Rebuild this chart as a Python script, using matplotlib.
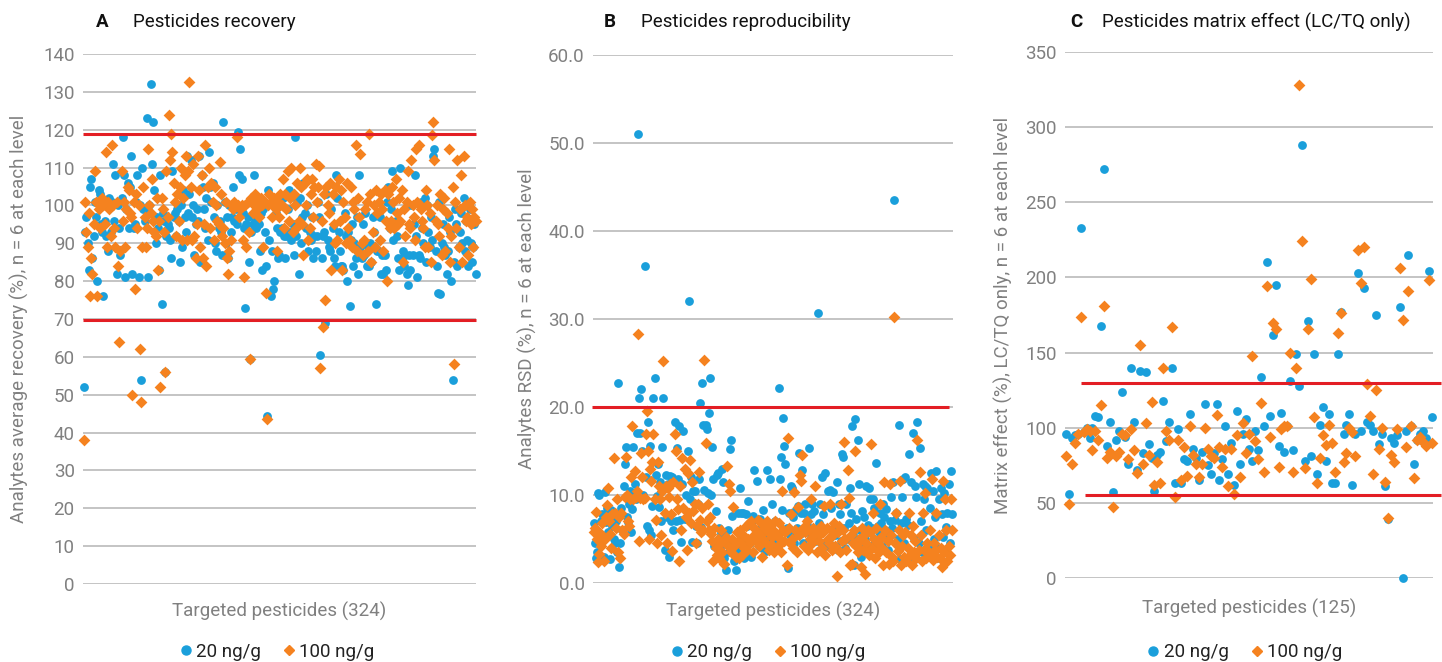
import matplotlib
matplotlib.use("Agg")
import matplotlib.pyplot as plt
from matplotlib.lines import Line2D
import numpy as np

plt.rcParams['font.family'] = ['Roboto', 'DejaVu Sans']

# ------------------------------------------------------------------------------
# Data
# ------------------------------------------------------------------------------
series_labels = ["20 ng/g", "100 ng/g"]

# A - average recovery (%), 324 pesticides
recovery_20 = [
    52, 93, 97, 90, 83, 105, 107, 86, 92, 101,
    97, 80, 104, 103, 95, 93, 76, 96, 92, 100,
    88, 102, 93, 101, 111, 96, 108, 82, 100, 94,
    87, 102, 118, 108, 81, 99, 106, 94, 105, 113,
    82, 94, 95, 101, 108, 81, 100, 54, 110, 99,
    96, 99, 123, 81, 100, 132, 111, 122, 104, 90,
    97, 94, 83, 108, 74, 98, 96, 56, 92, 95,
    94, 91, 86, 109, 97, 98, 92, 99, 96, 85,
    100, 89, 104, 97, 93, 113, 98, 103, 112, 97,
    100, 87, 95, 99, 96, 113, 85, 108, 105, 99,
    94, 102, 91, 114, 105, 101, 106, 97, 90, 88,
    100, 94, 96, 93, 87, 122, 101, 90, 97, 86,
    100, 93, 97, 105, 96, 99, 95, 119.5, 108, 115,
    107, 98, 94, 73, 95, 97, 85, 59.5, 93, 95,
    108, 96, 94, 100, 95, 88, 98, 83, 99, 93,
    84, 44.5, 104, 91, 76, 88, 78, 80, 98, 94,
    86, 87, 93, 94, 102, 92, 86, 92, 99, 104,
    93, 91, 95, 87, 118, 92, 101, 82, 102, 90,
    97, 106, 98, 94, 100, 88, 93, 91, 97, 86,
    92, 88, 92, 101, 97, 60.5, 86, 92, 93, 69,
    103, 91, 89, 88, 99, 94, 86, 84, 108, 102,
    93, 88, 84, 84, 83, 98, 92, 80, 93, 73.5,
    91, 95, 84, 90, 86, 97, 82, 108, 89, 86,
    95, 87, 98, 84, 89, 84, 90, 85, 97, 93,
    89, 74, 88, 88, 97, 82, 87, 82, 87, 83,
    101, 105, 94, 99, 109, 91, 95, 96, 92, 86,
    83, 110, 86, 88, 84, 87, 82, 79, 87, 83,
    100, 87, 95, 108, 92, 81, 87, 86, 101, 94,
    90, 102, 85, 100, 93, 89, 97, 91, 113, 115,
    88, 84, 77, 101, 76.5, 90, 95, 89, 87, 82,
    88, 97, 93, 80, 54, 85, 99, 95, 84, 89,
    93, 98, 90, 102, 88, 96, 91, 84, 99, 90,
    85, 89, 95, 82,
]
recovery_100 = [
    38, 101, 93, 89, 98, 76, 86, 82, 95, 109,
    101, 76, 99, 94, 101, 102, 100, 95, 114, 89,
    101, 99, 92, 116, 100, 94, 89, 101, 84, 64,
    88, 109, 96, 101, 89, 99, 105, 104, 98, 97,
    50, 101, 78, 103, 94, 100, 62, 48, 89, 105,
    97, 89, 94, 115, 100, 98, 107, 96, 93, 92,
    102, 83, 96, 52, 102, 99, 93, 56, 109, 97,
    124, 112, 119, 114, 106, 101, 92, 103, 96, 105,
    110, 91, 102, 108, 113, 91, 109, 132.5, 105, 91,
    111, 92, 86, 95, 113, 104, 89, 108, 86, 95,
    116, 84, 105, 110, 94, 106, 101, 91, 105, 100,
    96, 95, 111.5, 103, 92, 94, 90, 101, 86, 82,
    88, 91, 100, 99, 101, 100, 118, 100, 97, 99,
    100, 91, 81, 100, 89, 101, 93, 59.5, 102, 98,
    100, 103, 101, 99, 97, 100, 102, 100, 89, 101,
    77, 43.5, 100, 103, 101, 97, 100, 102, 99, 88,
    101, 97, 103, 100, 107, 94, 103, 99, 109, 96,
    102, 110, 93, 103, 100, 94, 106, 96, 110, 105,
    95, 87, 106, 100, 107, 91, 94, 103, 107, 97,
    105, 111, 101, 105, 110.5, 57, 96, 68, 103, 75,
    105, 100, 98, 106, 83, 103, 95, 90, 105, 91,
    107, 96, 104, 83, 101, 97, 90, 106, 94, 91,
    105, 89, 101, 99, 116, 88, 102, 97, 113.5, 90,
    87, 91, 99, 101, 88, 119, 103, 85, 93, 100,
    89, 104, 98, 101, 91, 103, 99, 88, 104, 96,
    80, 103, 94, 96, 105, 101, 94, 107, 98, 95,
    102, 96, 104, 85, 99, 92, 101, 109, 95, 94,
    112, 100, 97, 91, 115, 101, 116, 100, 99, 96,
    94, 89, 104, 100, 89, 98, 85, 118.5, 122, 112,
    96, 100, 95, 92, 103, 87, 99, 102, 88, 98,
    94, 115, 85, 92, 105, 58, 101, 94, 112, 89,
    99, 108, 85, 113, 100, 96, 97, 87, 101, 95,
    99, 89, 97, 96,
]

# B - RSD (%), 324 pesticides
rsd_20 = [
    6.8, 4.6, 2.8, 3.5, 10.2, 10.0, 4.5, 7.0, 7.8, 3.0,
    10.3, 6.9, 8.5, 5.8, 7.8, 2.7, 8.3, 6.5, 5.0, 4.5,
    7.0, 3.5, 22.7, 1.8, 4.5, 8.5, 6.0, 11.0, 13.5, 15.5,
    7.5, 6.9, 9.0, 10.4, 5.8, 8.4, 15.4, 11.2, 9.6, 17.0,
    51.0, 21.0, 17.1, 22.0, 15.0, 10.0, 36.0, 12.0, 6.5, 18.3,
    6.0, 15.6, 5.5, 8.7, 21.0, 23.3, 12.3, 9.9, 13.5, 8.6,
    11.5, 7.0, 15.5, 21.0, 3.8, 12.3, 7.5, 11.2, 3.0, 12.2,
    7.0, 12.0, 6.0, 18.3, 7.0, 15.3, 11.8, 17.8, 7.2, 4.7,
    11.3, 17.3, 7.3, 10.0, 7.3, 15.0, 32.0, 9.5, 12.0, 4.7,
    10.4, 10.5, 6.5, 4.5, 9.0, 11.8, 20.5, 6.4, 22.7, 17.9,
    10.6, 18.0, 17.5, 10.2, 19.3, 23.3, 10.0, 15.5, 11.8, 4.2,
    8.2, 12.3, 12.5, 6.2, 4.0, 5.7, 13.0, 11.5, 2.8, 1.5,
    4.5, 6.0, 3.5, 15.2, 16.3, 7.6, 4.8, 2.5, 1.5, 4.0,
    8.0, 3.5, 10.8, 7.9, 5.0, 8.0, 2.8, 7.8, 6.5, 9.3,
    5.0, 4.6, 3.0, 7.0, 7.6, 12.8, 5.5, 11.6, 5.0, 4.2,
    7.3, 6.4, 4.0, 8.3, 6.0, 3.6, 12.8, 4.5, 5.5, 11.8,
    6.2, 9.0, 5.0, 3.8, 7.0, 4.2, 5.5, 22.2, 11.8, 14.3,
    8.3, 18.8, 15.6, 13.5, 6.2, 1.7, 8.0, 5.5, 11.0, 10.8,
    7.5, 4.6, 8.2, 6.3, 8.8, 14.8, 5.6, 7.9, 12.8, 4.5,
    8.0, 9.0, 7.0, 5.8, 15.3, 6.2, 7.8, 9.0, 5.0, 8.2,
    4.8, 6.0, 30.7, 6.8, 9.0, 4.5, 12.0, 7.8, 6.0, 12.5,
    4.2, 10.5, 5.0, 10.6, 8.5, 4.0, 10.3, 6.2, 5.5, 11.5,
    3.8, 9.0, 7.8, 4.8, 14.7, 14.3, 6.2, 4.0, 9.0, 5.0,
    6.8, 10.8, 8.0, 17.8, 5.5, 2.0, 18.6, 7.3, 16.2, 11.2,
    6.0, 3.0, 8.2, 4.5, 7.5, 5.0, 11.0, 6.6, 10.8, 9.5,
    4.2, 6.3, 9.5, 8.5, 4.5, 13.6, 6.5, 5.8, 8.0, 6.8,
    4.2, 9.0, 7.5, 6.0, 8.4, 3.8, 5.2, 7.0, 9.8, 6.2,
    11.5, 43.5, 7.2, 8.0, 5.0, 18.0, 2.7, 6.8, 9.8, 11.8,
    4.5, 12.0, 7.3, 6.6, 14.7, 2.5, 11.5, 3.2, 17.0, 5.0,
    11.0, 9.8, 18.3, 4.5, 15.3, 7.0, 3.5, 11.2, 9.5, 11.0,
    6.0, 10.8, 4.2, 8.5, 12.5, 3.2, 10.5, 5.0, 7.5, 12.7,
    2.8, 9.6, 4.0, 10.8, 7.8, 5.2, 10.2, 3.6, 6.4, 8.0,
    11.2, 4.6, 12.7, 7.8,
]
rsd_100 = [
    5.8, 6.3, 8.1, 5.0, 2.4, 3.3, 5.7, 4.2, 6.8, 2.5,
    5.0, 7.5, 8.9, 10.8, 7.0, 5.6, 4.0, 7.8, 14.2, 8.0,
    6.2, 9.6, 3.5, 7.5, 2.8, 8.0, 6.0, 5.6, 9.8, 14.3,
    10.0, 7.0, 6.5, 9.6, 12.0, 17.8, 9.6, 12.7, 9.8, 10.5,
    28.3, 4.8, 9.7, 14.8, 12.0, 9.5, 9.7, 16.9, 19.6, 15.0,
    5.0, 13.0, 11.6, 13.8, 16.9, 9.6, 7.2, 4.5, 13.8, 11.0,
    9.6, 5.5, 10.5, 25.2, 8.0, 11.0, 4.5, 10.8, 9.8, 11.2,
    7.8, 3.6, 11.5, 16.9, 15.0, 9.6, 8.4, 2.5, 11.0, 6.0,
    14.2, 8.5, 13.0, 7.5, 3.8, 12.5, 8.0, 14.0, 6.8, 11.5,
    8.2, 9.0, 4.5, 6.5, 9.0, 12.6, 7.2, 5.8, 8.5, 6.0,
    25.3, 15.9, 7.0, 9.0, 6.0, 7.5, 5.6, 4.8, 2.5, 6.2,
    4.0, 3.2, 5.0, 2.8, 4.6, 6.0, 3.5, 4.8, 2.2, 5.2,
    13.3, 4.2, 11.3, 10.5, 3.5, 5.0, 8.6, 4.2, 3.0, 5.8,
    4.8, 2.8, 6.0, 4.5, 3.2, 5.5, 4.0, 6.5, 3.8, 5.0,
    6.8, 4.5, 7.0, 5.2, 3.5, 6.2, 4.8, 5.8, 7.2, 4.2,
    5.5, 6.8, 3.0, 5.0, 6.3, 4.6, 7.0, 5.8, 3.8, 6.5,
    4.4, 5.2, 6.0, 3.5, 7.0, 5.5, 4.2, 6.8, 5.0, 3.5,
    10.5, 6.0, 4.8, 5.8, 2.0, 16.5, 6.2, 4.5, 7.8, 5.0,
    4.0, 10.3, 6.0, 3.5, 8.6, 5.5, 12.3, 11.6, 14.6, 6.3,
    4.2, 5.8, 7.0, 3.8, 6.0, 5.0, 9.6, 4.5, 6.2, 5.5,
    11.0, 3.5, 6.0, 4.8, 5.6, 6.5, 4.0, 5.8, 8.8, 3.2,
    6.2, 5.0, 4.5, 9.0, 6.0, 3.8, 5.5, 6.8, 4.2, 0.8,
    5.8, 6.5, 3.5, 9.0, 4.8, 6.0, 16.0, 5.0, 3.8, 12.8,
    9.7, 2.0, 5.5, 2.2, 4.5, 6.0, 15.0, 4.2, 3.5, 5.0,
    4.8, 1.8, 6.2, 3.8, 5.5, 1.0, 4.5, 6.0, 3.2, 5.8,
    15.8, 4.0, 8.0, 5.0, 2.8, 6.2, 4.5, 3.5, 9.0, 5.2,
    4.0, 2.0, 11.5, 6.0, 3.5, 4.8, 2.2, 11.3, 5.5, 3.0,
    2.5, 30.2, 4.5, 8.0, 3.6, 6.0, 11.6, 2.0, 4.2, 5.5,
    3.0, 5.8, 2.5, 4.0, 8.0, 3.2, 5.5, 2.0, 6.5, 3.5,
    4.8, 2.8, 16.2, 3.8, 12.6, 5.5, 2.5, 8.0, 3.8, 10.2,
    2.8, 4.5, 3.5, 6.0, 3.2, 11.8, 2.6, 4.6, 3.8, 8.0,
    3.0, 5.5, 2.8, 4.0, 1.8, 11.6, 3.5, 9.5, 6.0, 2.5,
    4.2, 3.2, 9.6, 6.0,
]

# C - matrix effect (%), 125 pesticides (LC/TQ only)
matrix_20 = [
    96, 56, 93, 95, 96, 233, 97, 100, 93, 100,
    108, 107, 168, 272, 88, 104, 57, 92, 98, 124,
    94, 76, 140, 104, 72, 138, 83, 137, 89, 80,
    58, 82, 84, 118, 91, 104, 140, 63, 99, 63,
    79, 78, 109, 86, 80, 65, 84, 116, 75, 69,
    83, 116, 65, 79, 101, 69, 90, 62, 111, 76,
    96, 106, 86, 78, 98, 85, 134, 101, 210, 108,
    162, 195, 88, 110, 84, 101, 131, 85, 149, 128,
    288, 78, 171, 81, 149, 69, 102, 114, 78, 109,
    63, 63, 149, 177, 96, 102, 109, 62, 96, 203,
    98, 193, 104, 102, 98, 175, 89, 96, 61, 39,
    93, 90, 95, 180, 0, 98, 215, 101, 76, 92,
    96, 98, 93, 204, 107,
]
matrix_100 = [
    81, 49, 76, 90, 96, 174, 97, 99, 98, 85,
    98, 92, 115, 181, 80, 84, 47, 81, 84, 95.5,
    95, 79, 99, 85, 70, 155, 76, 103, 82, 117,
    62, 77, 63, 140, 98, 92, 167, 54, 92, 65,
    87.5, 68, 101, 82, 76, 67.5, 76, 100, 86, 81,
    80, 108.5, 87.5, 74, 86, 61, 86, 56, 95, 67,
    103, 83.5, 96, 148, 91, 79, 116.5, 70.6, 194, 94,
    170, 166, 74, 99, 101, 101, 150, 70.6, 140, 328,
    224, 73.5, 166, 199, 107, 63, 80, 95, 88.6, 102,
    90, 70.6, 163, 176, 77, 83, 99.5, 97, 81, 218,
    196, 220, 129, 108, 69, 125, 86, 99.5, 64, 40,
    82, 77, 99, 206, 172, 87, 191, 101, 66.6, 92,
    94, 90.6, 88, 198, 90,
]

# limit lines drawn on each panel
recovery_limits = [119, 69.8]
rsd_limits = [20]
matrix_limits = [129.6, 55.5]

BLUE = "#1a9fdb"
ORANGE = "#f5821f"
RED = "#e31e24"
GRID = "#c4c4c4"
GRAY = "#808080"

FIG_W, FIG_H = 1442, 662


def px_rect(x0, x1, y_top, y_bot):
    # pixel box -> figure fraction [left, bottom, width, height]
    return [x0 / FIG_W, 1 - y_bot / FIG_H, (x1 - x0) / FIG_W, (y_bot - y_top) / FIG_H]


def draw_panel(ax, y20, y100, n, ymax, ystep, fmt, xlim, limits, limit_span,
               ylabel, xlabel, ylab_x, xlab_y, leg_xy):
    x = np.arange(1, n + 1)
    ax.scatter(x, y20, s=40, marker="o", color=BLUE, linewidths=0, zorder=3, clip_on=False)
    ax.scatter(x, y100, s=36, marker="D", color=ORANGE, linewidths=0, zorder=3, clip_on=False)

    for (lo, hi), yv in zip(limit_span, limits):
        ax.plot([lo, hi], [yv, yv], color=RED, lw=2.2, zorder=4, clip_on=False,
                solid_capstyle="butt")

    ax.set_xlim(*xlim)
    ax.set_ylim(0, ymax)
    ax.set_yticks(np.arange(0, ymax + ystep / 2, ystep))
    ax.set_yticklabels([fmt.format(v) for v in np.arange(0, ymax + ystep / 2, ystep)])
    ax.set_xticks([])
    ax.tick_params(axis="y", length=0, pad=6, labelsize=13.5, labelcolor=GRAY)
    ax.yaxis.grid(True, color=GRID, lw=1.4)
    ax.set_axisbelow(True)
    for sp in ax.spines.values():
        sp.set_visible(False)

    ax.text(ylab_x, 0.5, ylabel, transform=ax.transAxes, rotation=90, ha="center",
            va="center", fontsize=13.5, color=GRAY)
    ax.text(0.5, xlab_y, xlabel, transform=ax.transAxes, ha="center", va="center",
            fontsize=13.5, color=GRAY)

    handles = [
        Line2D([], [], marker="o", ls="", color=BLUE, markersize=6.5, label=series_labels[0]),
        Line2D([], [], marker="D", ls="", color=ORANGE, markersize=5.5, label=series_labels[1]),
    ]
    ax.legend(handles=handles, loc="center", bbox_to_anchor=leg_xy, ncol=2, frameon=False,
              fontsize=13.5, handletextpad=0.05, columnspacing=1.0, handlelength=1.0,
              labelcolor="#222222")


fig = plt.figure(figsize=(FIG_W / 100, FIG_H / 100), dpi=100)

ax_a = fig.add_axes(px_rect(83, 476, 54, 584))
ax_b = fig.add_axes(px_rect(593, 953, 55, 583))
ax_c = fig.add_axes(px_rect(1065, 1433, 52, 578))

draw_panel(ax_a, recovery_20, recovery_100, 324, 140, 10, "{:.0f}", (0.2, 324.3),
           recovery_limits, [(0.2, 324.0), (0.2, 324.0)],
           "Analytes average recovery (%), n = 6 at each level",
           "Targeted pesticides (324)", -0.163, -0.051, (0.49, -0.128))
draw_panel(ax_b, rsd_20, rsd_100, 324, 60, 10, "{:.1f}", (0.5, 325.0),
           rsd_limits, [(-0.8, 321.7)],
           "Analytes RSD (%), n = 6 at each level",
           "Targeted pesticides (324)", -0.183, -0.053, (0.482, -0.131))
draw_panel(ax_c, matrix_20, matrix_100, 125, 350, 50, "{:.0f}", (0.7, 125.3),
           matrix_limits, [(6.0, 128.0), (7.4, 128.0)],
           "Matrix effect (%), LC/TQ only, n = 6 at each level",
           "Targeted pesticides (125)", -0.168, -0.057, (0.484, -0.141))

# panel titles
titles = [("A", "Pesticides recovery", 96, 133),
          ("B", "Pesticides reproducibility", 604, 641),
          ("C", "Pesticides matrix effect (LC/TQ only)", 1070, 1102)]
for letter, title, xl, xt in titles:
    fig.text(xl / FIG_W, 1 - 22 / FIG_H, letter, fontsize=13.5, fontweight="bold",
             color="#111111", va="center", ha="left")
    fig.text(xt / FIG_W, 1 - 22 / FIG_H, title, fontsize=13.5, color="#111111",
             va="center", ha="left")

fig.savefig("out.png", dpi=100)
